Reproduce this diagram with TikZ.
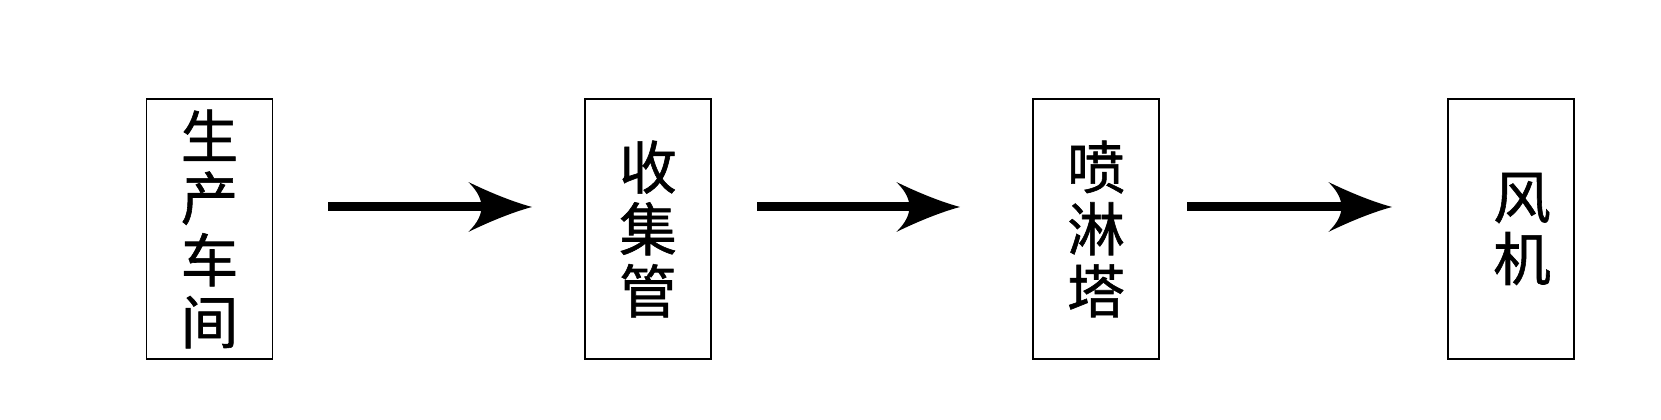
\documentclass[tikz,border=0pt]{standalone}
\usepackage{fontspec}
\newfontfamily\cjk[FakeBold=1]{Noto Sans CJK SC}
\usetikzlibrary{arrows.meta}

% swept arrow head of the flow arrows
\pgfdeclarearrow{
  name = Swept,
  setup code = {
    \pgfarrowssettipend{0pt}
    \pgfarrowssetlineend{-12pt}
    \pgfarrowssetbackend{-18.1pt}
    \pgfarrowshullpoint{0pt}{0pt}
    \pgfarrowshullpoint{-18.1pt}{7.1pt}
    \pgfarrowshullpoint{-18.1pt}{-7.1pt}
  },
  drawing code = {
    \pgfpathmoveto{\pgfqpoint{0pt}{0pt}}
    \pgfpathcurveto{\pgfqpoint{-6pt}{1.6pt}}{\pgfqpoint{-13pt}{4.6pt}}{\pgfqpoint{-18.1pt}{7.1pt}}
    \pgfpathcurveto{\pgfqpoint{-15.4pt}{4.4pt}}{\pgfqpoint{-14.4pt}{2.2pt}}{\pgfqpoint{-14.4pt}{0pt}}
    \pgfpathcurveto{\pgfqpoint{-14.4pt}{-2.2pt}}{\pgfqpoint{-15.4pt}{-4.4pt}}{\pgfqpoint{-18.1pt}{-7.1pt}}
    \pgfpathcurveto{\pgfqpoint{-13pt}{-4.6pt}}{\pgfqpoint{-6pt}{-1.6pt}}{\pgfqpoint{0pt}{0pt}}
    \pgfpathclose
    \pgfusepathqfill
  }
}

\begin{document}
\begin{tikzpicture}[
    stage/.style={draw, line width=0.5pt, minimum width=1.26cm, minimum height=2.60cm,
                  inner sep=0pt, align=center, font=\cjk\fontsize{16.4}{17.6}\selectfont},
    flow/.style={line width=2.55pt, -Swept}
]
    \useasboundingbox (0,0) rectangle (16.61,4.20);
    \node [stage] (shop) at (2.095, 1.91) {生\\产\\车\\间};
    \node [stage] (pipe) at (6.48, 1.91) {收\\集\\管};
    \node [stage] (tower) at (10.96, 1.91) {喷\\淋\\塔};
    \node [stage] (fan) at (15.11, 1.91) {\hspace*{0.22cm}风\\\hspace*{0.22cm}机};
    % arrows float between the boxes
    \coordinate (s1) at (3.28, 2.13);
    \coordinate (e1) at (5.32, 2.13);
    \coordinate (s2) at (7.57, 2.13);
    \coordinate (e2) at (9.60, 2.13);
    \coordinate (s3) at (11.87, 2.13);
    \coordinate (e3) at (13.92, 2.13);
    \draw [flow] (s1) -- (e1);
    \draw [flow] (s2) -- (e2);
    \draw [flow] (s3) -- (e3);
\end{tikzpicture}
\end{document}
